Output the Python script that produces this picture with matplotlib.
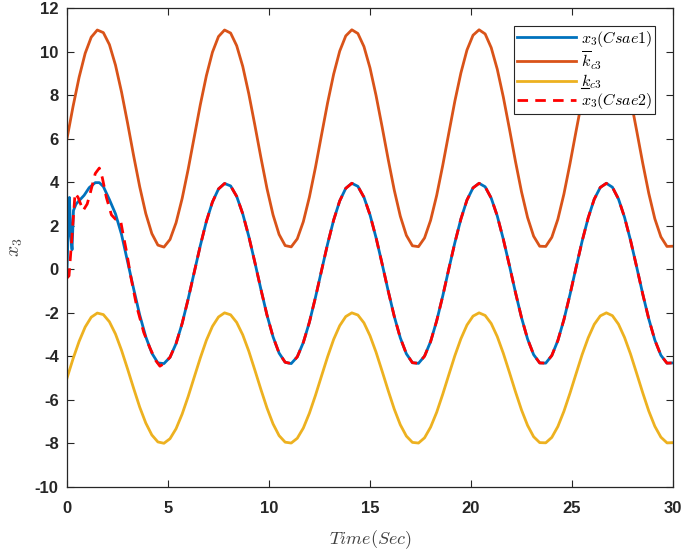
import numpy as np
import matplotlib
matplotlib.use("Agg")
import matplotlib.pyplot as plt
from matplotlib.lines import Line2D

plt.rcParams['mathtext.fontset'] = 'cm'

# ---------------- data ----------------
t_bound_step = 0.3
k_upper = [
    6.00, 7.48, 8.82, 9.92, 10.66, 10.99, 10.87, 10.32, 9.38, 8.14,
    6.71, 5.21, 3.79, 2.56, 1.64, 1.11, 1.02, 1.37, 2.14, 3.25,
    4.60, 6.08, 7.56, 8.89, 9.97, 10.69, 10.99, 10.85, 10.27, 9.32,
    8.06, 6.62, 5.13, 3.71, 2.50, 1.60, 1.09, 1.03, 1.40, 2.19,
    3.32, 4.68, 6.17, 7.64, 8.96, 10.02, 10.72, 11.00, 10.83, 10.23,
    9.25, 7.98, 6.54, 5.05, 3.64, 2.44, 1.56, 1.08, 1.04, 1.44,
    2.25, 3.39, 4.77, 6.25, 7.72, 9.02, 10.07, 10.75, 11.00, 10.81,
    10.18, 9.19, 7.91, 6.46, 4.96, 3.56, 2.38, 1.52, 1.06, 1.05,
    1.47, 2.30, 3.46, 4.85, 6.34, 7.80, 9.09, 10.12, 10.77, 11.00,
    10.78, 10.14, 9.12, 7.83, 6.37, 4.88, 3.49, 2.32, 1.49, 1.05,
    1.06]
k_lower = [
    -5.00, -4.11, -3.31, -2.65, -2.20, -2.01, -2.08, -2.41, -2.97, -3.72,
    -4.58, -5.47, -6.33, -7.06, -7.61, -7.93, -7.99, -7.78, -7.32, -6.65,
    -5.84, -4.95, -4.07, -3.26, -2.62, -2.19, -2.00, -2.09, -2.44, -3.01,
    -3.76, -4.63, -5.52, -6.37, -7.10, -7.64, -7.94, -7.98, -7.76, -7.29,
    -6.61, -5.79, -4.90, -4.02, -3.22, -2.59, -2.17, -2.00, -2.10, -2.46,
    -3.05, -3.81, -4.68, -5.57, -6.42, -7.14, -7.66, -7.95, -7.98, -7.74,
    -7.25, -6.57, -5.74, -4.85, -3.97, -3.19, -2.56, -2.15, -2.00, -2.12,
    -2.49, -3.09, -3.86, -4.73, -5.62, -6.46, -7.17, -7.69, -7.96, -7.97,
    -7.72, -7.22, -6.52, -5.69, -4.80, -3.92, -3.15, -2.53, -2.14, -2.00,
    -2.13, -2.52, -3.13, -3.90, -4.78, -5.67, -6.51, -7.21, -7.71, -7.97,
    -7.96]

# x3 (Csae1): transient part
t_csae1_early = [0.0, 0.05, 0.12, 0.18, 0.25, 0.32, 0.45, 0.65, 0.85, 1.1,
                 1.4, 1.6, 1.8, 2.1, 2.4, 2.7, 3.0, 3.3, 3.6, 3.9, 4.2, 4.5]
x3_csae1_early = [0.0, 1.5, 3.3, 1.6, 0.9, 2.7, 3.0, 3.2, 3.4, 3.75,
                  3.98, 3.98, 3.8, 3.2, 2.55, 1.6, 0.35, -0.9, -2.1, -3.1, -3.85, -4.3]
# x3 tracking part (t = 4.8 ... 30, step 0.3)
t_late_start = 4.8
x3_late = [
    -4.33, -4.04, -3.41, -2.49, -1.36, -0.13, 1.09, 2.20, 3.09, 3.69,
    3.94, 3.83, 3.35, 2.55, 1.51, 0.32, -0.92, -2.10, -3.10, -3.85,
    -4.27, -4.33, -4.02, -3.36, -2.43, -1.29, -0.06, 1.16, 2.26, 3.14,
    3.72, 3.95, 3.81, 3.31, 2.50, 1.45, 0.25, -0.99, -2.16, -3.15,
    -3.88, -4.29, -4.32, -3.99, -3.32, -2.37, -1.23, 0.01, 1.22, 2.31,
    3.18, 3.74, 3.95, 3.79, 3.27, 2.45, 1.38, 0.18, -1.06, -2.22,
    -3.20, -3.92, -4.30, -4.31, -3.96, -3.27, -2.31, -1.16, 0.08, 1.29,
    2.36, 3.22, 3.76, 3.95, 3.77, 3.23, 2.39, 1.32, 0.11, -1.13,
    -2.28, -3.25, -3.95, -4.31, -4.30]

# x3 (Csae2): transient part
t_csae2_early = [0.0, 0.1, 0.23, 0.4, 0.55, 0.8, 1.0, 1.15, 1.4, 1.6, 1.75,
                 1.95, 2.2, 2.4, 2.65, 2.8, 2.95, 3.15, 3.45, 3.8, 4.1, 4.4, 4.6]
x3_csae2_early = [-0.4, -0.3, 1.3, 3.5, 3.3, 2.7, 3.0, 3.5, 4.4, 4.65, 4.2,
                  3.3, 2.5, 2.3, 2.25, 1.5, 0.8, -0.3, -1.7, -2.9, -3.6, -4.2, -4.45]

labels = [r'$x_3(Csae1)$', r'$\overline{k}_{c3}$', r'$k_{c3}$', r'$x_3(Csae2)$']
colors = ['#0072BD', '#D95319', '#EDB120', '#FF0000']

# ---------------- build series ----------------
t_bound = np.arange(len(k_upper)) * t_bound_step
t_late = t_late_start + np.arange(len(x3_late)) * t_bound_step
t1 = np.concatenate([t_csae1_early, t_late])
y1 = np.concatenate([x3_csae1_early, x3_late])
t2 = np.concatenate([t_csae2_early, t_late])
y2 = np.concatenate([x3_csae2_early, x3_late])

# ---------------- figure ----------------
fig = plt.figure(figsize=(6.85, 5.53), dpi=100)
ax = fig.add_axes([0.0978, 0.1193, 0.8847, 0.8662])

lw = 2.0
ax.plot(t1, y1, color=colors[0], lw=lw, label=labels[0], solid_joinstyle='round')
ax.plot(t_bound, k_upper, color=colors[1], lw=lw, label=labels[1], solid_joinstyle='round')
ax.plot(t_bound, k_lower, color=colors[2], lw=lw, label=labels[2], solid_joinstyle='round')
ax.plot(t2, y2, color=colors[3], lw=lw, ls=(0, (3.8, 2.6)), label=labels[3])

ax.set_xlim(0, 30)
ax.set_ylim(-10, 12)
ax.set_xticks(np.arange(0, 31, 5))
ax.set_yticks(np.arange(-10, 13, 2))

tick_font = dict(family='Liberation Sans', weight='bold', size=12)
ax.set_xticklabels([str(v) for v in np.arange(0, 31, 5)], fontdict=tick_font)
ax.set_yticklabels([str(v) for v in np.arange(-10, 13, 2)], fontdict=tick_font)
ax.tick_params(direction='in', length=5, width=0.8, colors='#262626',
               top=True, right=True)
ax.tick_params(axis='x', pad=10)
ax.tick_params(axis='y', pad=6)
for s in ax.spines.values():
    s.set_color('#262626')
    s.set_linewidth(0.9)

ax.set_xlabel(r'$Time(Sec)$', fontsize=13, color='#404040', labelpad=9)
ax.set_ylabel(r'$x_3$', fontsize=14, color='#404040')
ax.yaxis.set_label_coords(-0.07, 0.5)

leg = ax.legend(loc='upper right', fontsize=11.5, frameon=True, fancybox=False,
                edgecolor='#262626', framealpha=1, borderpad=0.2,
                labelspacing=0.02, handlelength=3.7, handletextpad=0.3,
                borderaxespad=1.1)
leg.get_frame().set_linewidth(0.8)

# underline the "k" of the lower-bound legend label
fig.canvas.draw()
txt = leg.get_texts()[2]
bb = txt.get_window_extent(renderer=fig.canvas.get_renderer())
W, H = fig.canvas.get_width_height()
x0 = bb.x0 + 0.5
x1 = bb.x0 + 0.40 * bb.width
yl = bb.y0 + 2.5
fig.add_artist(Line2D([x0 / W, x1 / W], [yl / H, yl / H], color='black', lw=0.8,
                      transform=fig.transFigure))

fig.savefig('out.png', dpi=100)
